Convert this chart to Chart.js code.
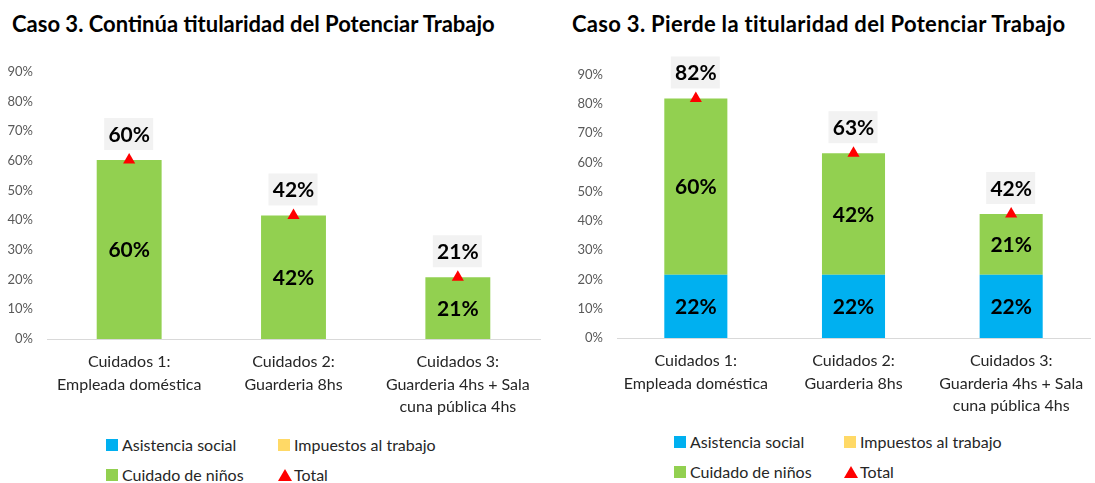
<!DOCTYPE html>
<html>
<head>
<meta charset="utf-8">
<script src="https://cdn.jsdelivr.net/npm/chart.js@4"></script>
<style>
  body { margin: 0; width: 1095px; height: 483px; overflow: hidden; background: #fff; font-family: Lato, sans-serif; position: relative; }
  .title { position: absolute; top: 10px; font-weight: bold; font-size: 22px; color: #000; white-space: nowrap; }
  .box { position: absolute; }
  .legend { position: absolute; font-size: 16px; color: #262626; }
  .legend .item { position: absolute; white-space: nowrap; display: flex; align-items: center; }
  .legend .sq { width: 12px; height: 12px; margin-right: 4px; }
  .legend .tri { width: 0; height: 0; border-left: 7px solid transparent; border-right: 7px solid transparent; border-bottom: 12px solid #ff0000; margin-right: 2px; }
</style>
</head>
<body>
<div class="title" style="left:12px">Caso 3. Continúa titularidad del Potenciar Trabajo</div>
<div class="title" style="left:572px; letter-spacing:0.3px">Caso 3. Pierde la titularidad del Potenciar Trabajo</div>
<div class="box" style="left:0; top:50px; width:547px; height:370px"><canvas id="chartLeft"></canvas></div>
<div class="box" style="left:547px; top:53px; width:550px; height:367px"><canvas id="chartRight"></canvas></div>
<div class="legend" id="legendLeft" style="left:106px; top:435px"></div>
<div class="legend" id="legendRight" style="left:674px; top:432px"></div>
<script>
// categories
const categories = [
    ['Cuidados 1:', 'Empleada doméstica'],
    ['Cuidados 2:', 'Guarderia 8hs'],
    ['Cuidados 3:', 'Guarderia 4hs + Sala', 'cuna pública 4hs']
];
const yTicks = [0, 0.1, 0.2, 0.3, 0.4, 0.5, 0.6, 0.7, 0.8, 0.9];

// case: continues holding the program
const leftAsistencia = [0, 0, 0];
const leftImpuestos = [0, 0, 0];
const leftCuidado = [0.603, 0.416, 0.208];
const leftTotal = [0.603, 0.416, 0.208];

// case: loses the program
const rightAsistencia = [0.216, 0.216, 0.216];
const rightImpuestos = [0, 0, 0];
const rightCuidado = [0.603, 0.416, 0.208];
const rightTotal = [0.819, 0.632, 0.424];

const FONT = 'Lato, sans-serif';

const pct = v => Math.round(v * 100) + '%';

// draws the values inside the bars and the grey boxes above the triangles
const valueLabels = {
    id: 'valueLabels',
    afterDatasetsDraw(chart) {
        const ctx = chart.ctx;
        ctx.save();
        ctx.font = 'bold 21px ' + FONT;
        ctx.textAlign = 'center';
        ctx.textBaseline = 'middle';
        chart.data.datasets.forEach((ds, i) => {
            const meta = chart.getDatasetMeta(i);
            meta.data.forEach((el, j) => {
                const v = ds.data[j];
                if (!v) return;
                const text = pct(v);
                if (ds.type === 'line') {
                    const y = el.y - 26;
                    ctx.fillStyle = '#f2f2f2';
                    ctx.fillRect(el.x - 25, y - 16, 49, 32);
                    ctx.fillStyle = '#000';
                    ctx.fillText(text, el.x, y + 1);
                } else {
                    ctx.fillStyle = '#000';
                    ctx.fillText(text, el.x, (el.y + el.base) / 2 + 1);
                }
            });
        });
        ctx.restore();
    }
};

function makeChart(id, asistencia, impuestos, cuidado, total, opts) {
    const ctx = document.getElementById(id).getContext('2d');
    return new Chart(ctx, {
        type: 'bar',
        data: {
            labels: categories,
            datasets: [
                { type: 'bar', label: 'Asistencia social', data: asistencia, backgroundColor: '#00b0f0', stack: 's', barPercentage: opts.barPct, categoryPercentage: 1, order: 2 },
                { type: 'bar', label: 'Impuestos al trabajo', data: impuestos, backgroundColor: '#ffd966', stack: 's', barPercentage: opts.barPct, categoryPercentage: 1, order: 2 },
                { type: 'bar', label: 'Cuidado de niños', data: cuidado, backgroundColor: '#92d050', stack: 's', barPercentage: opts.barPct, categoryPercentage: 1, order: 2 },
                { type: 'line', label: 'Total', data: total, stack: 't', showLine: false, pointStyle: 'triangle', pointRadius: 7, pointHoverRadius: 7, backgroundColor: '#ff0000', borderColor: '#ff0000', borderWidth: 0, order: 1 }
            ]
        },
        options: {
            responsive: true,
            maintainAspectRatio: false,
            animation: false,
            layout: { padding: 0 },
            plugins: {
                legend: { display: false },
                tooltip: { enabled: false }
            },
            scales: {
                x: {
                    stacked: true,
                    grid: { display: false, drawTicks: false },
                    border: { color: '#d9d9d9', width: 1 },
                    ticks: { color: '#262626', font: { family: FONT, size: 16, lineHeight: 1.4 }, padding: 12, maxRotation: 0, autoSkip: false },
                    afterFit: scale => { scale.height = opts.xHeight; }
                },
                y: {
                    stacked: true,
                    min: 0,
                    max: 0.9,
                    afterBuildTicks: scale => { scale.ticks = yTicks.map(v => ({ value: v })); },
                    grid: { display: false, drawTicks: false },
                    border: { display: false },
                    ticks: { color: '#595959', font: { family: FONT, size: 13 }, padding: 14, callback: v => pct(v) },
                    afterFit: scale => { scale.width = opts.yWidth; }
                }
            }
        },
        plugins: [valueLabels]
    });
}

function buildLegend(chart, el, colX) {
    el.innerHTML = '';
    // two rows of two: Asistencia / Impuestos, Cuidado / Total
    const pos = [[0, 0], [1, 0], [0, 1], [1, 1]];
    chart.data.datasets.forEach((ds, i) => {
        const item = document.createElement('div');
        item.className = 'item';
        item.style.left = (pos[i][0] * colX) + 'px';
        item.style.top = (pos[i][1] * 30) + 'px';
        const mark = document.createElement('span');
        if (ds.type === 'line') {
            mark.className = 'tri';
        } else {
            mark.className = 'sq';
            mark.style.background = ds.backgroundColor;
        }
        item.appendChild(mark);
        item.appendChild(document.createTextNode(ds.label));
        el.appendChild(item);
    });
}

const chartLeft = makeChart('chartLeft', leftAsistencia, leftImpuestos, leftCuidado, leftTotal,
    { barPct: 0.395, xHeight: 81, yWidth: 47 });
const chartRight = makeChart('chartRight', rightAsistencia, rightImpuestos, rightCuidado, rightTotal,
    { barPct: 0.4, xHeight: 82, yWidth: 70 });

buildLegend(chartLeft, document.getElementById('legendLeft'), 172);
buildLegend(chartRight, document.getElementById('legendRight'), 170);
</script>
</body>
</html>
